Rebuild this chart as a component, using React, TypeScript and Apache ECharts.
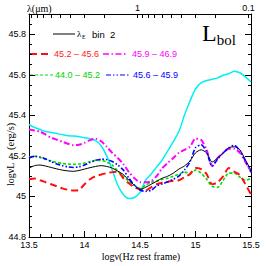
import React, { useEffect, useRef } from "react";
import * as echarts from "echarts";

// log nu (Hz, rest frame)
const logNu = [
  13.5, 13.55, 13.6, 13.65, 13.7, 13.75, 13.8, 13.85, 13.9, 13.95,
  14.0, 14.05, 14.1, 14.15, 14.2, 14.25, 14.3, 14.35, 14.4, 14.45,
  14.5, 14.55, 14.6, 14.65, 14.7, 14.75, 14.8, 14.85, 14.9, 14.95,
  15.0, 15.05, 15.1, 15.15, 15.2, 15.25, 15.3, 15.35, 15.4, 15.45, 15.5,
];

// lambda_E bin 2 (black)
const lamEBin2 = [
  45.14, 45.152, 45.155, 45.15, 45.143, 45.136, 45.13, 45.126, 45.124, 45.128,
  45.135, 45.142, 45.148, 45.152, 45.148, 45.14, 45.125, 45.108, 45.08, 45.055,
  45.035, 45.045, 45.06, 45.075, 45.09, 45.1, 45.115, 45.135, 45.15, 45.175,
  45.215, 45.23, 45.215, 45.17, 45.19, 45.215, 45.24, 45.245, 45.23, 45.18, 45.13,
];

// 45.2 - 45.6 (red, long dashes)
const bin452to456 = [
  45.085, 45.088, 45.08, 45.07, 45.06, 45.05, 45.04, 45.033, 45.029, 45.032,
  45.06, 45.085, 45.1, 45.108, 45.115, 45.12, 45.122, 45.09, 45.065, 45.045,
  45.035, 45.03, 45.045, 45.06, 45.068, 45.072, 45.078, 45.08, 45.095, 45.11,
  45.14, 45.135, 45.11, 45.06, 45.07, 45.1, 45.14, 45.122, 45.105, 45.06, 45.01,
];

// 45.9 - 46.9 (magenta, dash-dot)
const bin459to469 = [
  45.33, 45.325, 45.32, 45.305, 45.29, 45.28, 45.27, 45.26, 45.253, 45.255,
  45.265, 45.278, 45.285, 45.272, 45.245, 45.215, 45.19, 45.16, 45.12, 45.09,
  45.07, 45.07, 45.075, 45.1, 45.14, 45.165, 45.19, 45.215, 45.23, 45.245,
  45.285, 45.28, 45.23, 45.15, 45.19, 45.215, 45.235, 45.235, 45.215, 45.17, 45.12,
];

// 44.0 - 45.2 (green, short dashes)
const bin440to452 = [
  45.195, 45.198, 45.192, 45.183, 45.175, 45.168, 45.163, 45.16, 45.158, 45.16,
  45.165, 45.172, 45.178, 45.178, 45.17, 45.155, 45.125, 45.1, 45.075, 45.055,
  45.04, 45.055, 45.07, 45.075, 45.085, 45.09, 45.1, 45.11, 45.12, 45.115,
  45.13, 45.115, 45.085, 45.05, 45.045, 45.08, 45.115, 45.115, 45.095, 45.08, 45.09,
];

// 45.6 - 45.9 (blue, dash-dot-dot)
const bin456to459 = [
  45.19, 45.198, 45.195, 45.185, 45.172, 45.16, 45.152, 45.146, 45.143, 45.146,
  45.155, 45.168, 45.178, 45.184, 45.182, 45.172, 45.155, 45.13, 45.09, 45.055,
  45.032, 45.025, 45.03, 45.052, 45.062, 45.072, 45.085, 45.1, 45.13, 45.17,
  45.24, 45.255, 45.22, 45.15, 45.185, 45.215, 45.24, 45.252, 45.225, 45.175, 45.12,
];

// cyan curve
const cyanCurve = [
  45.355, 45.34, 45.33, 45.32, 45.315, 45.31, 45.305, 45.3, 45.298, 45.295,
  45.29, 45.285, 45.275, 45.25, 45.2, 45.13, 45.055, 45.01, 44.99, 44.995,
  45.02, 45.08, 45.11, 45.145, 45.18, 45.225, 45.27, 45.32, 45.4, 45.47,
  45.53, 45.56, 45.572, 45.578, 45.585, 45.598, 45.605, 45.618, 45.61, 45.59, 45.565,
];

// top axis: wavelength in micron
const lambdaTicks = [9, 8, 7, 6, 5, 4, 3, 2, 1, 0.9, 0.8, 0.7, 0.6, 0.5, 0.4, 0.3, 0.2, 0.1];
const lambdaLabels = [1, 0.1];

const LOG_C_MICRON = Math.log10(2.998e14);
const lamToNu = (l: number) => LOG_C_MICRON - Math.log10(l);

const pairs = (ys: number[]) => logNu.map((x, i) => [x, ys[i]]);

export default function App() {
  const ref = useRef<HTMLDivElement>(null);
  useEffect(() => {
    if (!ref.current) return;
    const chart = echarts.init(ref.current, null, { renderer: "svg" });
    const tickFont = { fontFamily: "Liberation Sans", fontSize: 9, color: "#000" };
    const serif = "Liberation Serif";
    const mkSeries = (name: string, ys: number[], color: string, width: number, dash: any, z: number) => ({
      name,
      type: "line",
      data: pairs(ys),
      showSymbol: false,
      smooth: 0.25,
      z,
      lineStyle: { color, width, type: dash },
    });
    const legendLine = (x1: number, x2: number, y: number, color: string, width: number, dash: any) => ({
      type: "line",
      shape: { x1, y1: y, x2, y2: y },
      style: { stroke: color, lineWidth: width, lineDash: dash },
      silent: true,
    });
    const legendText = (x: number, y: number, text: string, color: string) => ({
      type: "text",
      x,
      y,
      style: { text, fill: color, font: `9px "Liberation Sans"`, verticalAlign: "middle" },
      silent: true,
    });
    chart.setOption({
      animation: false,
      backgroundColor: "#fff",
      grid: { left: 29, right: 15, top: 14, bottom: 29, containLabel: false },
      xAxis: [
        {
          type: "value",
          min: 13.5,
          max: 15.5,
          interval: 0.5,
          position: "bottom",
          axisLine: { show: true, onZero: false, lineStyle: { color: "#000", width: 1 } },
          axisTick: { show: true, inside: true, length: 6, lineStyle: { color: "#000" } },
          minorTick: { show: true, splitNumber: 5, length: 3, lineStyle: { color: "#000" } },
          splitLine: { show: false },
          minorSplitLine: { show: false },
          axisLabel: { ...tickFont, margin: 3, showMinLabel: true, showMaxLabel: true },
        },
        {
          type: "value",
          min: 13.5,
          max: 15.5,
          position: "top",
          axisLine: { show: true, onZero: false, lineStyle: { color: "#000", width: 1 } },
          axisTick: {
            show: true,
            inside: true,
            length: 4,
            customValues: lambdaTicks.map(lamToNu),
            lineStyle: { color: "#000" },
          },
          splitLine: { show: false },
          axisLabel: {
            ...tickFont,
            margin: 2,
            customValues: lambdaLabels.map(lamToNu),
            formatter: (v: number) => {
              const l = Math.pow(10, LOG_C_MICRON - v);
              return String(Math.round(l * 10) / 10);
            },
          },
        },
      ],
      yAxis: [
        {
          type: "value",
          min: 44.8,
          max: 45.9,
          interval: 0.2,
          position: "left",
          axisLine: { show: true, onZero: false, lineStyle: { color: "#000", width: 1 } },
          axisTick: { show: true, inside: true, length: 6, lineStyle: { color: "#000" } },
          minorTick: { show: true, splitNumber: 4, length: 3, lineStyle: { color: "#000" } },
          splitLine: { show: false },
          axisLabel: {
            ...tickFont,
            margin: 3,
            showMaxLabel: false,
            formatter: (v: number) => {
              const k = Math.round(v * 10);
              if (k % 2 !== 0) return "";
              return String(Math.round(v * 10) / 10);
            },
          },
        },
        {
          type: "value",
          min: 44.8,
          max: 45.9,
          interval: 0.2,
          position: "right",
          axisLine: { show: true, onZero: false, lineStyle: { color: "#000", width: 1 } },
          axisTick: { show: true, inside: true, length: 6, lineStyle: { color: "#000" } },
          minorTick: { show: true, splitNumber: 4, length: 3, lineStyle: { color: "#000" } },
          splitLine: { show: false },
          axisLabel: { show: false },
        },
      ],
      series: [
        mkSeries("cyan", cyanCurve, "#00f0f0", 1.5, "solid", 2),
        mkSeries("44.0 - 45.2", bin440to452, "#00e000", 1.6, [3, 2], 3),
        mkSeries("45.2 - 45.6", bin452to456, "#ff1010", 2, [7, 4], 4),
        mkSeries("45.9 - 46.9", bin459to469, "#ff00ff", 2, [6, 2.5, 1.5, 2.5], 5),
        mkSeries("lambda_E bin 2", lamEBin2, "#000000", 1, "solid", 6),
        mkSeries("45.6 - 45.9", bin456to459, "#0000ff", 1.6, [5, 2, 1.5, 2, 1.5, 2], 7),
      ],
      graphic: [
        // lambda(um) label on the top axis
        {
          type: "text",
          x: 27,
          y: 8,
          style: { text: "λ(μm)", fill: "#000", font: `10px "${serif}"`, verticalAlign: "middle" },
          silent: true,
        },
        // L_bol
        {
          type: "text",
          x: 202,
          y: 34,
          silent: true,
          style: {
            text: "{a|L}{b|bol}",
            verticalAlign: "middle",
            rich: {
              a: { fontFamily: serif, fontSize: 24, fill: "#000", lineHeight: 26, verticalAlign: "top" },
              b: { fontFamily: serif, fontSize: 15, fill: "#000", lineHeight: 26, verticalAlign: "bottom" },
            },
          },
        },
        // legend row 1
        legendLine(53, 75, 34, "#000", 1, null),
        {
          type: "text",
          x: 77,
          y: 34,
          style: { text: "λ", fill: "#000", font: `9px "${serif}"`, verticalAlign: "middle" },
          silent: true,
        },
        {
          type: "text",
          x: 82,
          y: 37,
          style: { text: "E", fill: "#000", font: `6px "${serif}"`, verticalAlign: "middle" },
          silent: true,
        },
        {
          type: "text",
          x: 92,
          y: 34,
          style: { text: "bin  2", fill: "#000", font: `9.5px "Liberation Sans"`, verticalAlign: "middle" },
          silent: true,
        },
        // legend row 2
        legendLine(30, 51, 54, "#ff1010", 2, [7, 4]),
        legendText(54, 54, "45.2 – 45.6", "#ff2020"),
        legendLine(103, 128, 54, "#ff00ff", 1.6, [6, 2.5, 1.5, 2.5]),
        legendText(132, 54, "45.9 – 46.9", "#ff00ff"),
        // legend row 3
        legendLine(30, 53, 75, "#00e000", 1.2, [3, 2]),
        legendText(55, 75, "44.0 – 45.2", "#00d000"),
        legendLine(106, 130, 75, "#0000ff", 1.2, [5, 2, 1.5, 2, 1.5, 2]),
        legendText(133, 75, "45.6 – 45.9", "#0000ff"),
        // x axis title
        {
          type: "text",
          x: 141,
          y: 256,
          style: {
            text: "logν(Hz rest frame)",
            fill: "#000",
            font: `10px "${serif}"`,
            align: "center",
            verticalAlign: "middle",
          },
          silent: true,
        },
        // y axis title (rotated)
        {
          type: "group",
          x: 10,
          y: 186,
          rotation: Math.PI / 2,
          silent: true,
          children: [
            {
              type: "text",
              x: 0,
              y: 0,
              style: { text: "logνL", fill: "#000", font: `10px "${serif}"`, verticalAlign: "middle" },
            },
            {
              type: "text",
              x: 26,
              y: 3,
              style: { text: "ν", fill: "#000", font: `7px "${serif}"`, verticalAlign: "middle" },
            },
            {
              type: "text",
              x: 36,
              y: 0,
              style: { text: "(erg/s)", fill: "#000", font: `10.5px "${serif}"`, verticalAlign: "middle" },
            },
          ],
        },
      ],
    });
    return () => chart.dispose();
  }, []);
  return <div ref={ref} style={{ width: 266, height: 266, position: "absolute", left: 0, top: 0 }} />;
}
